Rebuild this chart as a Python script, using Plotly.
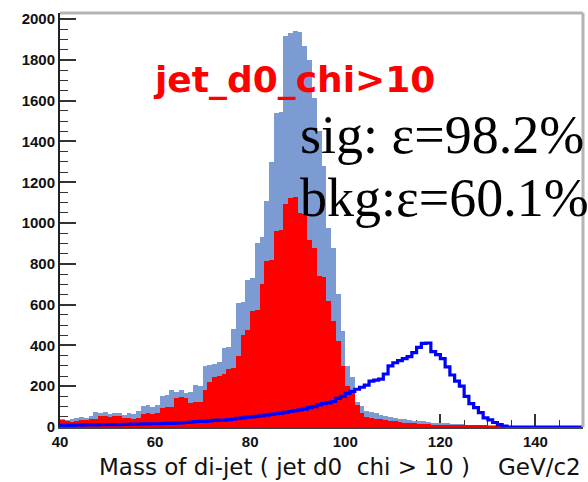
import plotly.graph_objects as go

# ---- data: 1 GeV bins from 40 to 150 (lower edges) ----
bin_edges = list(range(40, 151))
bin_centers = [e + 0.5 for e in bin_edges[:-1]]

total_counts = [
    40, 35, 40, 45, 50, 45, 55, 75, 70, 75,          # 40-49
    65, 70, 70, 60, 70, 65, 80, 105, 110, 100,       # 50-59
    110, 150, 155, 180, 170, 180, 165, 170, 205, 200,  # 60-69
    300, 305, 310, 320, 385, 390, 480, 610, 615, 720,  # 70-79
    730, 900, 930, 1110, 1300, 1540, 1545, 1915, 1930, 1940,  # 80-89
    1935, 1870, 1800, 1615, 1450, 1280, 975, 880, 650, 470,   # 90-99
    300, 245, 125, 105, 80, 75, 70, 60, 55, 50,      # 100-109
    45, 40, 40, 35, 30, 30, 28, 25, 22, 20,          # 110-119
    20, 18, 16, 15, 14, 12, 10, 10, 8, 7,            # 120-129
    6, 5, 4, 3, 2, 1, 0, 0, 0, 0,                    # 130-139
    0, 0, 0, 0, 0, 0, 0, 0, 0, 0,                    # 140-149
]

cut_counts = [
    34, 30, 25, 30, 35, 35, 40, 40, 55, 55,
    50, 55, 55, 45, 45, 40, 45, 65, 70, 65,
    70, 95, 100, 100, 140, 145, 140, 120, 125, 125,
    180, 220, 245, 250, 260, 285, 290, 350, 450, 475,
    570, 575, 700, 815, 820, 960, 965, 1095, 1125, 1130,
    1050, 1045, 915, 880, 740, 735, 620, 520, 420, 300,
    200, 170, 110, 70, 50, 45, 40, 38, 35, 30,
    28, 25, 22, 20, 18, 16, 15, 14, 12, 12,
    11, 10, 10, 9, 8, 8, 7, 6, 5, 5,
    4, 4, 3, 2, 1, 0, 0, 0, 0, 0,
    0, 0, 0, 0, 0, 0, 0, 0, 0, 0,
]

bkg_counts = [
    8, 8, 8, 9, 9, 10, 10, 10, 11, 11,
    12, 12, 12, 13, 13, 14, 14, 15, 15, 16,
    16, 17, 18, 18, 19, 20, 22, 24, 26, 28,
    28, 30, 32, 34, 34, 36, 38, 42, 45, 48,
    50, 52, 55, 58, 62, 65, 68, 72, 76, 80,
    84, 88, 95, 100, 108, 115, 118, 125, 140, 150,
    165, 175, 185, 195, 205, 225, 230, 235, 260, 300,
    315, 325, 335, 345, 365, 390, 410, 412, 370, 355,
    335, 295, 255, 225, 200, 150, 115, 95, 70, 45,
    35, 22, 12, 5, 0, 0, 0, 0, 0, 0,
    0, 0, 0, 0, 0, 0, 0, 0, 0, 0,
]

y_tick_vals = [0, 200, 400, 600, 800, 1000, 1200, 1400, 1600, 1800, 2000]
x_tick_vals = [40, 60, 80, 100, 120, 140]

cut_label = "jet_d0_chi>10"
sig_label = "sig: \u03b5=98.2%"
bkg_label = "bkg:\u03b5=60.1%"
x_title = "Mass of di-jet ( jet d0  chi > 10 )"
x_unit = "GeV/c2"

# ---- layout geometry (pixels) ----
W, H = 588, 482
L, R, T, B = 60, 5, 13, 55
PW, PH = W - L - R, H - T - B


def px(x):
    return (x - L) / PW


def py(y):
    return (H - B - y) / PH


fig = go.Figure()
fig.add_trace(go.Bar(x=bin_centers, y=total_counts, width=1.0,
                     marker=dict(color="#7d9bd3", line=dict(width=0)),
                     showlegend=False))
fig.add_trace(go.Bar(x=bin_centers, y=cut_counts, width=1.0,
                     marker=dict(color="#ff0000", line=dict(width=0)),
                     showlegend=False))
fig.add_trace(go.Scatter(x=bin_edges, y=bkg_counts + [bkg_counts[-1]],
                         mode="lines", line=dict(color="#0000ff", width=3.2, shape="hv"),
                         showlegend=False))

tickfont = dict(family="Liberation Sans", size=15, color="#111111", weight="bold")

fig.update_layout(
    width=W, height=H,
    margin=dict(l=L, r=R, t=T, b=B, pad=0),
    paper_bgcolor="white", plot_bgcolor="white",
    barmode="overlay", bargap=0,
    xaxis=dict(range=[40, 150], tickvals=x_tick_vals, ticks="inside", ticklen=13,
               tickwidth=1.5, tickcolor="#333333", showgrid=False, zeroline=False,
               showline=True, linecolor="#444444", linewidth=2, layer="below traces",
               tickfont=tickfont,
               minor=dict(ticks="inside", dtick=5, ticklen=7, tickwidth=1.2,
                          tickcolor="#333333", showgrid=False)),
    yaxis=dict(range=[0, 2030], tickvals=y_tick_vals, ticks="inside", ticklen=16,
               tickwidth=2, tickcolor="#333333", showgrid=False, zeroline=False,
               showline=True, linecolor="#222222", linewidth=2, layer="below traces",
               tickfont=tickfont,
               minor=dict(ticks="inside", dtick=50, ticklen=8, tickwidth=1.2,
                          tickcolor="#333333", showgrid=False)),
    shapes=[
        dict(type="line", xref="paper", yref="paper", x0=0, x1=1, y0=1, y1=1,
             line=dict(color="#b4b4b4", width=3)),
        dict(type="line", xref="paper", yref="paper", x0=1, x1=1, y0=0, y1=1,
             line=dict(color="#b4b4b4", width=3)),
    ],
    annotations=[
        dict(text=cut_label, xref="paper", yref="paper", x=px(151), y=py(79),
             xanchor="left", yanchor="middle", showarrow=False,
             font=dict(family="DejaVu Sans", size=36, color="#ff0000", weight="bold")),
        dict(text=sig_label, xref="paper", yref="paper", x=px(298), y=py(135),
             xanchor="left", yanchor="middle", showarrow=False,
             font=dict(family="Liberation Serif", size=54, color="#000000")),
        dict(text=bkg_label, xref="paper", yref="paper", x=px(298), y=py(198),
             xanchor="left", yanchor="middle", showarrow=False,
             font=dict(family="Liberation Serif", size=54, color="#000000")),
        dict(text=x_title, xref="paper", yref="paper", x=px(97), y=py(467),
             xanchor="left", yanchor="middle", showarrow=False,
             font=dict(family="DejaVu Sans", size=23, color="#111111")),
        dict(text=x_unit, xref="paper", yref="paper", x=px(583), y=py(467),
             xanchor="right", yanchor="middle", showarrow=False,
             font=dict(family="DejaVu Sans", size=23, color="#111111")),
    ],
)

fig.write_html("out.html")
